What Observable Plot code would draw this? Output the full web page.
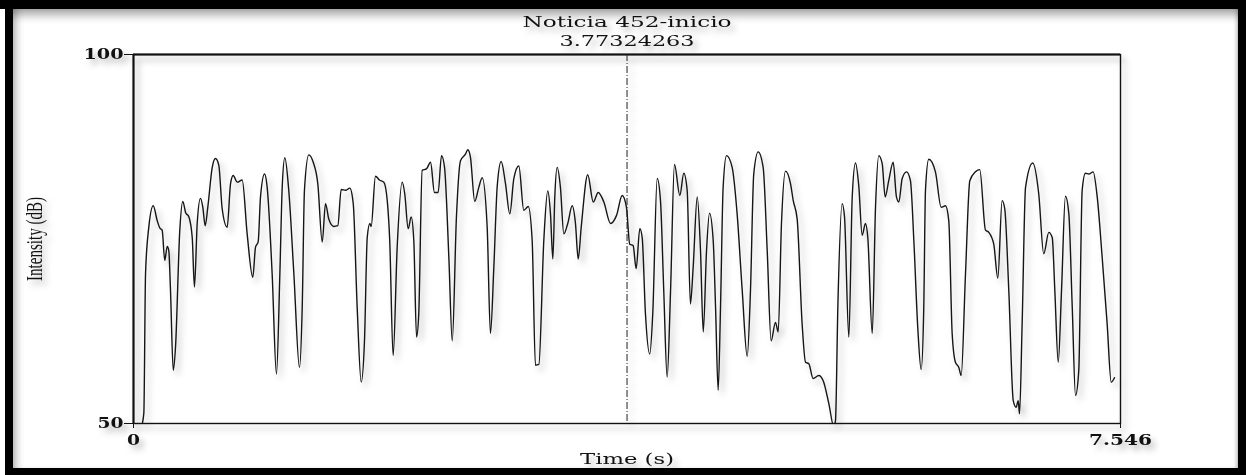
<!DOCTYPE html>
<html><head><meta charset="utf-8">
<script src="https://cdn.jsdelivr.net/npm/d3@7"></script>
<script src="https://cdn.jsdelivr.net/npm/@observablehq/plot@0.6"></script>
<style>
html,body{margin:0;padding:0;background:#fff;}
#wrap{position:relative;width:1246px;height:475px;overflow:hidden;background:#fff;}
#chart{position:absolute;left:0;top:0;}
#chart svg{filter:drop-shadow(4px 5px 3px rgba(0,0,0,0.28));}
#border{position:absolute;left:5px;top:0;width:1241px;height:475px;box-sizing:border-box;border-style:solid;border-color:#000;border-width:9px 8px 7px 8px;box-shadow:inset 0 12px 10px -6px rgba(0,0,0,0.35), inset 9px 0 8px -6px rgba(0,0,0,0.3), inset -4px 0 4px -3px rgba(0,0,0,0.3);pointer-events:none;}
#topband{position:absolute;left:0;top:0;width:6px;height:9px;background:#000;}
</style>
</head><body>
<div id="wrap"><div id="chart"></div><div id="border"></div><div id="topband"></div></div>
<script>
// Time (s)
const times = [
0.060,0.079,0.092,0.117,0.151,0.181,0.201,0.219,0.239,0.258,
0.270,0.283,0.304,0.321,0.354,0.377,0.398,0.423,0.449,0.466,
0.487,0.512,0.530,0.548,0.568,0.602,0.627,0.652,0.678,0.716,
0.742,0.762,0.793,0.831,0.869,0.912,0.933,0.953,0.971,1.002,
1.022,1.060,1.093,1.119,1.137,1.157,1.187,1.226,1.269,1.290,
1.307,1.340,1.374,1.409,1.443,1.468,1.493,1.531,1.562,1.588,
1.621,1.654,1.680,1.710,1.741,1.766,1.787,1.807,1.817,1.850,
1.880,1.914,1.940,1.959,1.985,2.016,2.054,2.074,2.100,2.123,
2.143,2.164,2.181,2.207,2.240,2.271,2.301,2.329,2.355,2.378,
2.411,2.437,2.469,2.500,2.538,2.556,2.576,2.609,2.640,2.666,
2.704,2.729,2.755,2.781,2.811,2.844,2.877,2.908,2.946,2.984,
3.018,3.048,3.073,3.099,3.137,3.167,3.188,3.206,3.221,3.239,
3.264,3.290,3.320,3.354,3.379,3.400,3.423,3.473,3.515,3.553,
3.596,3.647,3.693,3.736,3.769,3.794,3.820,3.843,3.871,3.889,
3.914,3.947,3.970,4.004,4.029,4.054,4.080,4.106,4.136,4.177,
4.207,4.233,4.258,4.279,4.310,4.335,4.356,4.381,4.404,4.432,
4.450,4.470,4.488,4.508,4.534,4.577,4.615,4.654,4.692,4.717,
4.742,4.776,4.814,4.845,4.875,4.908,4.929,4.954,4.985,5.023,
5.044,5.074,5.112,5.138,5.163,5.196,5.239,5.273,5.316,5.354,
5.367,5.385,5.418,5.436,5.469,5.495,5.520,5.545,5.571,5.596,
5.614,5.648,5.673,5.698,5.724,5.747,5.774,5.808,5.833,5.851,
5.877,5.910,5.940,5.966,5.996,6.022,6.042,6.055,6.080,6.131,
6.175,6.208,6.233,6.259,6.284,6.310,6.328,6.361,6.394,6.437,
6.470,6.514,6.539,6.577,6.608,6.641,6.661,6.692,6.726,6.748,
6.764,6.774,6.794,6.820,6.875,6.921,6.959,6.998,7.024,7.044,
7.070,7.095,7.125,7.151,7.177,7.202,7.227,7.253,7.278,7.304,
7.337,7.368,7.406,7.444,7.475,7.500
];
// Intensity (dB)
const intensity = [
49.5,51.4,70.3,76.6,79.5,77.5,76.5,76.2,72.1,74.0,
73.4,68.0,57.2,60.3,76.2,80.1,78.6,78.0,75.2,68.5,
77.1,80.5,79.3,76.8,79.3,84.7,85.9,85.0,79.1,76.6,
82.5,83.6,82.7,83.0,75.7,69.8,73.9,74.6,80.7,83.8,
82.0,70.3,56.7,70.3,82.0,86.0,81.6,70.3,57.6,65.8,
81.6,86.4,85.4,82.5,74.6,79.8,77.7,76.7,76.8,81.7,
81.6,81.9,79.8,65.8,55.6,61.2,75.2,77.1,76.7,83.5,
83.0,82.7,80.2,74.8,59.2,73.9,82.7,81.1,76.4,78.0,
74.8,61.7,64.9,84.3,84.5,85.4,81.3,81.3,86.3,84.7,
72.5,61.2,78.0,85.6,86.5,87.1,86.1,80.1,82.0,83.3,
76.6,62.2,71.2,82.2,85.5,82.5,78.4,83.2,84.9,78.9,
79.4,74.8,57.9,58.0,74.8,81.5,78.4,72.3,80.7,84.7,
82.0,75.7,77.1,79.5,77.1,72.3,76.6,83.7,80.0,81.3,
80.0,77.1,78.2,80.9,79.3,74.3,74.1,71.0,76.4,75.2,
64.9,59.4,64.9,83.2,80.2,68.0,56.3,68.0,85.1,80.9,
83.9,81.6,66.2,71.2,80.7,73.4,62.4,73.4,78.5,74.8,
65.8,54.5,65.8,82.0,86.3,84.7,78.4,68.0,59.1,68.0,
83.8,86.8,84.7,73.4,61.2,63.7,62.4,77.1,84.2,82.5,
80.2,77.7,63.5,58.3,58.1,56.1,56.5,55.8,52.7,49.6,
50.4,65.8,79.8,78.0,61.7,80.7,85.3,82.2,75.5,77.1,
75.2,62.2,79.3,86.3,85.2,80.7,82.9,85.4,80.7,80.0,
83.2,84.1,82.9,74.8,63.0,57.3,65.8,81.6,85.8,84.1,
79.3,79.5,77.5,62.2,58.3,57.6,56.5,70.3,82.9,84.1,
84.4,76.2,75.9,74.3,69.7,80.2,79.1,68.0,53.1,52.2,
53.1,51.3,63.5,82.0,85.3,81.1,73.0,75.9,75.2,68.0,
58.3,68.0,80.8,78.4,65.8,53.8,57.2,81.6,83.9,83.8,
84.1,80.7,72.5,63.5,55.6,56.2
];
const xTicks = [0, 7.546];
const xTickLabels = ["0", "7.546"];
const yTicks = [50, 100];
const yTickLabels = ["50", "100"];
const cursorTime = 3.77324263;
const cursorLabel = "3.77324263";
const titleText = "Noticia 452-inicio";
const xLabel = "Time (s)";
const yLabel = "Intensity (dB)";

const data = times.map((t, i) => ({t, db: intensity[i]}));

const chart = Plot.plot({
  width: 1246, height: 475,
  marginLeft: 133, marginRight: 126, marginTop: 54, marginBottom: 52,
  style: {fontFamily: "'DejaVu Serif', serif", fontSize: "14px", color: "#111", background: "transparent", overflow: "visible"},
  x: {domain: [0, 7.546]},
  y: {domain: [50, 100]},
  marks: [
    Plot.frame({stroke: "#111", strokeWidth: 1.4}),
    Plot.ruleY([100], {stroke: "#111", strokeWidth: 2.2}),
    Plot.ruleX([0], {stroke: "#111", strokeWidth: 2}),
    Plot.ruleX([cursorTime], {stroke: "#222", strokeWidth: 1, strokeDasharray: "7,2,1,2"}),
    Plot.line(data, {x: "t", y: "db", curve: "monotone-x", stroke: "#151515", strokeWidth: 1.4, clip: true}),
    Plot.axisX({ticks: xTicks, tickFormat: (d, i) => xTickLabels[i], tickSize: 5, tickPadding: 6, stroke: "#111",
      label: xLabel, labelArrow: "none", labelAnchor: "center", labelOffset: 40}),
    Plot.axisY({ticks: yTicks, tickFormat: (d, i) => yTickLabels[i], tickSize: 9, tickPadding: 1, stroke: "#111",
      label: yLabel, labelArrow: "none", labelAnchor: "center", labelOffset: 109}),
    Plot.text([cursorTime], {x: d => d, frameAnchor: "top", dy: -38, text: () => titleText, fill: "#111"}),
    Plot.text([cursorTime], {x: d => d, frameAnchor: "top", dy: -19, text: () => cursorLabel, fill: "#111"})
  ]
});
document.getElementById("chart").append(chart);
const svg = d3.select(chart);
// widths of the stretched lettering in the original rendering
const stretch = {"0": 13, "7.546": 63, "50": 26, "100": 40};
stretch[titleText] = 209;
stretch[cursorLabel] = 135;
svg.selectAll('[aria-label="x-axis tick label"] text, [aria-label="y-axis tick label"] text')
  .style("font-size", "15px").style("font-weight", "bold")
  .each(function() { const w = stretch[this.textContent]; if (w) d3.select(this).attr("textLength", w).attr("lengthAdjust", "spacingAndGlyphs"); });
svg.selectAll('[aria-label="text"] text').style("font-size", "15px")
  .each(function() { const w = stretch[this.textContent]; if (w) d3.select(this).attr("textLength", w).attr("lengthAdjust", "spacingAndGlyphs"); });
svg.selectAll('[aria-label="x-axis label"] text').text(xLabel).style("font-size", "15px")
  .attr("textLength", 94).attr("lengthAdjust", "spacingAndGlyphs");
svg.selectAll('[aria-label="y-axis label"] text').text(yLabel).style("font-family", "'Liberation Serif', serif").style("font-size", "24px")
  .attr("textLength", 84).attr("lengthAdjust", "spacingAndGlyphs");
</script>
</body></html>
